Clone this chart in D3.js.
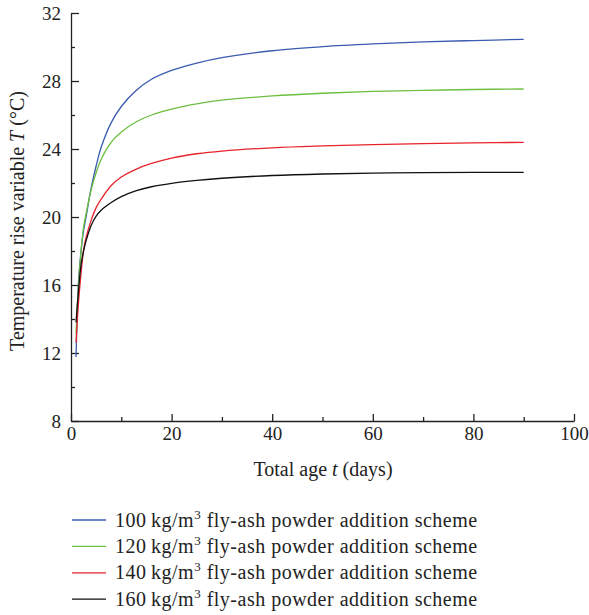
<!DOCTYPE html>
<html>
<head>
<meta charset="utf-8">
<script src="https://cdn.jsdelivr.net/npm/d3@7"></script>
<style>
  body { margin: 0; background: #fff; }
  text { font-family: "Liberation Serif", "DejaVu Serif", serif; fill: #222; }
</style>
</head>
<body>
<div id="chart"></div>
<script>
// total age in days, at the points
const days = [1, 1.5, 2, 2.5, 3, 4, 5, 6, 8, 10, 13, 16, 20, 25, 30, 40, 50, 60, 70, 80, 90];

// temperature rise T (°C) per fly-ash scheme
const ash100 = [11.77, 16.2, 18.0, 19.2, 20.0, 21.7, 23.0, 24.1, 25.55, 26.5, 27.45, 28.1, 28.62, 29.05, 29.37, 29.78, 30.02, 30.18, 30.3, 30.38, 30.45];
const ash120 = [13.15, 16.0, 18.0, 19.4, 20.2, 21.6, 22.6, 23.4, 24.4, 25.0, 25.6, 26.0, 26.35, 26.65, 26.87, 27.12, 27.28, 27.39, 27.45, 27.5, 27.53];
const ash140 = [12.6, 15.0, 16.7, 18.05, 18.8, 19.8, 20.55, 21.05, 21.85, 22.35, 22.82, 23.15, 23.47, 23.72, 23.88, 24.07, 24.18, 24.26, 24.32, 24.36, 24.39];
const ash160 = [13.8, 15.7, 17.2, 18.0, 18.6, 19.5, 20.05, 20.4, 20.85, 21.2, 21.55, 21.78, 21.98, 22.15, 22.28, 22.44, 22.53, 22.58, 22.61, 22.62, 22.63];

const doses = ["100", "120", "140", "160"];
const colors = ["#3a5bb0", "#6cbf3f", "#e8232a", "#111111"];

const xTicks = [0, 20, 40, 60, 80, 100];
const xMinor = [10, 30, 50, 70, 90];
const yTicks = [8, 12, 16, 20, 24, 28, 32];
const yMinor = [10, 14, 18, 22, 26, 30];

const series = [ash100, ash120, ash140, ash160].map((vals, i) => ({
    dose: doses[i],
    color: colors[i],
    points: days.map((d, j) => ({ t: d, T: vals[j] }))
}));

const width = 589, height = 615;
const margin = { top: 13, right: 15, bottom: 194, left: 71 };

const svg = d3.select("#chart")
    .append("svg")
    .attr("width", width)
    .attr("height", height);

const xScale = d3.scaleLinear()
    .domain([0, 100])
    .range([margin.left, width - margin.right]);

const yScale = d3.scaleLinear()
    .domain([8, 32])
    .range([height - margin.bottom, margin.top]);

const plotBottom = height - margin.bottom;

// minor ticks first, then the main axes on top
svg.append("g")
    .attr("transform", `translate(0,${plotBottom})`)
    .call(d3.axisBottom(xScale).tickValues(xMinor).tickSize(-4).tickSizeOuter(0).tickFormat(""))
    .call(g => g.select(".domain").remove());

svg.append("g")
    .attr("transform", `translate(${margin.left},0)`)
    .call(d3.axisLeft(yScale).tickValues(yMinor).tickSize(-4).tickSizeOuter(0).tickFormat(""))
    .call(g => g.select(".domain").remove());

const xAxis = svg.append("g")
    .attr("transform", `translate(0,${plotBottom})`)
    .call(d3.axisBottom(xScale).tickValues(xTicks).tickSize(-7).tickSizeOuter(0).tickPadding(6));

const yAxis = svg.append("g")
    .attr("transform", `translate(${margin.left},0)`)
    .call(d3.axisLeft(yScale).tickValues(yTicks).tickSize(-8).tickSizeOuter(0).tickPadding(10));

[xAxis, yAxis].forEach(g => {
    g.selectAll("text").style("font-size", "19px").attr("fill", "#222");
});
svg.selectAll(".domain, .tick line").attr("stroke", "#222").attr("stroke-width", 1.3);

// curves
const line = d3.line()
    .x(d => xScale(d.t))
    .y(d => yScale(d.T))
    .curve(d3.curveCatmullRom.alpha(0.5));

svg.selectAll(".curve")
    .data(series)
    .enter()
    .append("path")
    .attr("class", "curve")
    .attr("fill", "none")
    .attr("stroke", d => d.color)
    .attr("stroke-width", 1.3)
    .attr("d", d => line(d.points));

// axis titles
svg.append("text")
    .attr("x", 323)
    .attr("y", 476)
    .attr("text-anchor", "middle")
    .style("font-size", "20px")
    .html("Total age <tspan font-style='italic'>t</tspan> (days)");

svg.append("text")
    .attr("transform", "translate(24,221) rotate(-90)")
    .attr("text-anchor", "middle")
    .style("font-size", "20px")
    .html("Temperature rise variable <tspan font-style='italic'>T</tspan> (°C)");

// legend
const legend = svg.selectAll(".legend")
    .data(series)
    .enter()
    .append("g")
    .attr("class", "legend")
    .attr("transform", (d, i) => `translate(72,${520 + i * 26.4})`);

legend.append("line")
    .attr("x1", 0).attr("x2", 34)
    .attr("stroke", d => d.color)
    .attr("stroke-width", 1.3);

legend.append("text")
    .attr("x", 43)
    .attr("y", 6.5)
    .style("font-size", "20px")
    .style("letter-spacing", "0.5px")
    .html(d => `${d.dose}\u2009kg/m<tspan dy="-8" font-size="13px">3</tspan><tspan dy="8"> fly-ash powder addition scheme</tspan>`);
</script>
</body>
</html>
